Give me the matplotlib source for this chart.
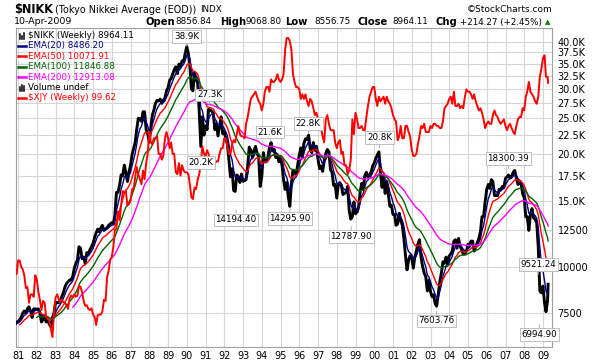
import numpy as np
import pandas as pd
import matplotlib
matplotlib.use('Agg')
import matplotlib.pyplot as plt
import matplotlib.dates as mdates
from matplotlib.lines import Line2D
from matplotlib.ticker import NullLocator

W, H = 600, 364

# month-end closes Jan 1980 .. Mar 2009, last value is the 10-Apr-2009 close
nikkei_close = [
    6600, 6650, 6600, 6700, 6850, 6900, 7000, 7050, 7100, 7000, 7100, 7116,        # 1980
    7200, 7300, 7500, 7600, 7500, 7700, 7800, 7600, 7300, 7700, 7700, 7681,        # 1981
    7700, 7500, 7100, 7200, 7400, 7100, 7200, 7000, 6900, 7300, 7500, 8016,        # 1982
    8000, 8000, 8100, 8300, 8500, 8800, 9000, 9100, 9200, 9200, 9400, 9893,        # 1983
    10200, 10400, 11300, 11200, 10500, 10600, 10200, 10900, 10800, 11100, 11300, 11542,  # 1984
    11990, 12300, 12600, 12400, 12700, 12900, 12500, 12600, 12700, 12900, 13000, 13113,  # 1985
    13000, 13700, 15800, 15800, 16500, 17600, 17500, 18700, 17900, 16900, 17900, 18701,  # 1986
    20000, 20700, 21500, 23300, 25000, 24900, 24500, 26000, 26000, 23300, 22700, 21564,  # 1987
    23600, 25500, 26300, 27400, 27900, 27800, 28100, 27400, 27900, 28300, 29600, 30159,  # 1988
    31600, 31900, 32800, 33700, 34300, 32900, 34900, 34400, 35600, 35500, 37300, 38916,  # 1989
    37200, 34600, 29900, 29600, 33100, 31900, 31000, 25900, 20984, 25200, 22500, 23849,  # 1990
    23300, 26400, 26300, 26100, 25800, 23300, 24100, 22400, 23900, 25200, 22700, 22984,  # 1991
    22000, 21300, 19300, 17400, 18300, 16000, 15900, 17600, 17400, 16800, 17700, 16925,  # 1992
    17000, 17100, 18600, 20900, 20500, 19600, 20400, 21000, 20100, 19700, 16400, 17417,  # 1993
    20200, 19100, 19100, 19700, 20900, 21500, 20400, 20600, 19600, 19900, 19100, 19723,  # 1994
    18600, 17100, 16100, 16800, 15400, 14500, 16700, 18100, 17900, 17650, 18700, 19868,  # 1995
    20800, 19700, 21400, 22000, 21900, 22500, 20700, 20200, 21500, 20500, 21000, 19361,  # 1996
    18300, 18600, 18000, 19200, 20100, 20600, 20300, 18200, 17900, 16500, 16600, 15259,  # 1997
    16600, 16800, 16500, 15600, 15700, 15800, 16400, 14100, 13400, 13600, 14900, 13842,  # 1998
    14000, 14400, 15800, 16700, 16100, 17500, 17900, 17400, 17600, 17900, 18600, 18934,  # 1999
    19500, 19900, 20300, 17900, 16300, 17400, 15700, 16900, 15700, 14500, 14600, 13786,  # 2000
    13800, 12900, 13000, 13900, 13300, 12900, 11900, 10700, 9800, 10400, 10700, 10543,   # 2001
    9900, 10600, 11000, 11500, 11800, 10600, 10000, 9600, 9400, 8600, 9200, 8579,        # 2002
    8300, 8400, 7970, 7830, 8400, 9100, 9600, 10300, 10200, 10600, 10100, 10677,         # 2003
    10800, 11000, 11700, 11800, 11200, 11900, 11300, 11100, 10800, 10800, 11000, 11489,  # 2004
    11400, 11700, 11700, 11000, 11300, 11600, 11900, 12400, 13600, 13600, 14900, 16111,  # 2005
    16600, 16200, 17100, 16900, 15500, 15500, 15500, 16100, 16100, 16400, 16300, 17225,  # 2006
    17400, 17600, 17300, 17400, 17900, 18100, 17250, 16600, 16800, 16700, 15700, 15307,  # 2007
    13600, 13600, 12500, 13800, 14300, 13500, 13400, 13100, 11300, 8600, 8500, 8859,     # 2008
    7994, 7568, 8110, 8964,                                                              # 2009
]

# $XJY (yen index) closes on the same dates
xjy_close = [
    41.7, 40.2, 40.0, 41.7, 44.2, 45.9, 44.8, 45.7, 47.2, 47.2, 46.7, 49.3,   # 1980
    49.3, 48.1, 47.6, 46.5, 44.2, 44.4, 41.7, 43.1, 43.1, 42.7, 46.5, 45.7,   # 1981
    43.5, 42.2, 40.5, 42.0, 41.7, 39.4, 39.1, 38.8, 37.6, 36.4, 40.0, 42.6,   # 1982
    43.1, 42.4, 41.8, 42.2, 41.8, 41.7, 41.3, 40.7, 42.4, 42.9, 42.6, 43.1,   # 1983
    42.7, 42.9, 44.6, 44.4, 43.5, 42.0, 41.2, 41.3, 40.7, 40.5, 40.8, 39.8,   # 1984
    39.4, 38.2, 39.7, 39.8, 39.8, 40.3, 42.2, 42.0, 46.1, 47.4, 49.5, 50.0,   # 1985
    52.1, 55.6, 55.9, 59.9, 57.8, 61.3, 64.9, 64.5, 64.9, 61.3, 61.7, 62.5,   # 1986
    65.4, 65.4, 68.5, 71.4, 69.4, 68.0, 66.7, 70.4, 68.0, 72.5, 75.2, 82.0,   # 1987
    78.7, 78.1, 80.0, 80.0, 80.6, 75.2, 75.2, 73.5, 74.6, 80.0, 82.0, 80.0,   # 1988
    76.9, 78.7, 75.2, 75.2, 69.9, 69.4, 72.5, 69.0, 71.9, 70.4, 69.9, 69.9,   # 1989
    69.4, 66.7, 63.3, 62.9, 65.8, 65.4, 68.0, 69.4, 72.5, 77.5, 75.2, 74.6,   # 1990
    76.3, 75.2, 71.4, 73.5, 72.5, 72.5, 73.0, 73.0, 75.2, 76.9, 76.9, 80.0,   # 1991
    80.0, 77.5, 75.2, 75.2, 78.1, 79.4, 78.7, 81.3, 84.0, 81.3, 80.6, 80.6,   # 1992
    80.0, 84.7, 87.0, 90.1, 93.5, 94.3, 95.2, 96.2, 94.3, 92.6, 91.7, 89.3,   # 1993
    91.7, 96.2, 98.0, 98.0, 96.2, 101.0, 100.0, 100.0, 101.0, 103.1, 101.0, 100.0,  # 1994
    101.0, 103.1, 113.6, 119.0, 119.0, 117.6, 113.6, 103.1, 100.0, 98.0, 98.0, 97.1,  # 1995
    93.5, 95.2, 93.5, 95.2, 92.6, 90.9, 93.5, 92.6, 90.1, 87.7, 88.5, 86.2,   # 1996
    82.6, 83.3, 80.6, 78.7, 86.2, 87.7, 84.7, 82.6, 82.6, 82.6, 78.7, 76.9,   # 1997
    78.7, 79.4, 75.2, 75.8, 71.9, 71.9, 69.4, 70.4, 73.5, 86.2, 81.3, 88.5,   # 1998
    86.2, 83.3, 83.3, 84.0, 82.6, 82.6, 87.0, 90.9, 94.3, 96.2, 98.0, 98.0,   # 1999
    93.5, 90.9, 94.3, 92.6, 93.5, 94.3, 91.7, 94.3, 92.6, 91.7, 90.1, 87.7,   # 2000
    86.2, 85.5, 79.4, 80.6, 84.0, 80.0, 80.0, 84.0, 84.0, 82.0, 80.6, 76.3,   # 2001
    74.6, 74.6, 75.2, 78.1, 80.6, 84.0, 83.3, 84.7, 82.0, 82.0, 82.0, 84.0,   # 2002
    83.3, 84.7, 84.7, 84.0, 84.0, 83.3, 83.3, 85.5, 90.1, 90.9, 91.7, 93.5,   # 2003
    94.3, 91.7, 96.2, 90.9, 90.9, 91.7, 90.1, 90.9, 90.1, 94.3, 97.1, 96.2,   # 2004
    96.2, 95.2, 93.5, 95.2, 92.6, 90.9, 89.3, 90.1, 88.5, 86.2, 83.3, 84.7,   # 2005
    85.5, 84.7, 84.7, 87.7, 89.3, 87.7, 87.0, 85.5, 84.7, 85.5, 86.2, 84.0,   # 2006
    82.6, 84.0, 84.7, 83.3, 82.0, 81.3, 84.0, 86.2, 87.0, 87.0, 90.1, 89.3,   # 2007
    94.3, 96.2, 100.0, 96.2, 95.2, 94.3, 92.6, 91.7, 94.3, 102.0, 105.3, 109.9,  # 2008
    111.1, 102.0, 102.0, 99.62,                                               # 2009
]

ema_periods = [20, 50, 100, 200]
ema_colors = ['#000080', '#ff0000', '#006400', '#ff00ff']
ema_last = ['8486.20', '10071.91', '11846.88', '12913.08']

ytick_vals = [7500, 10000, 12500, 15000, 17500, 20000, 22500, 25000,
              27500, 30000, 32500, 35000, 37500, 40000]
ytick_labels = ['7500', '10000', '12500', '15.0K', '17.5K', '20.0K', '22.5K', '25.0K',
                '27.5K', '30.0K', '32.5K', '35.0K', '37.5K', '40.0K']

years = list(range(1981, 2010))

# labelled highs / lows
mark_dates = ['1989-12-29', '1991-03-18', '1990-10-01', '1994-06-13', '1996-06-26',
              '1992-08-18', '1995-07-03', '1998-10-09', '2000-04-12', '2007-02-26',
              '2008-10-06', '2008-10-28', '2003-04-28']
mark_values = [38916, 27146, 20222, 21552, 22750, 14194, 14296, 12788, 20833,
               18300, 9521, 6995, 7604]
mark_text = ['38.9K', '27.3K', '20.2K', '21.6K', '22.8K', '14194.40', '14295.90',
             '12787.90', '20.8K', '18300.39', '9521.24', '6994.90', '7603.76']
mark_above = [True, True, False, True, True, False, False, False, True, True,
              True, False, False]

dates = list(pd.date_range('1980-01-31', '2009-03-31', freq='ME')) + [pd.Timestamp('2009-04-10')]
close = pd.Series(nikkei_close, index=dates, dtype=float)
xjy = pd.Series(xjy_close, index=dates, dtype=float)


def fx(x):
    return x / W


def fy(y):
    return 1 - y / H


fig = plt.figure(figsize=(W / 100, H / 100), dpi=100)
ax = fig.add_axes([fx(16), fy(347), (552 - 16) / W, (347 - 28) / H])

# weekly EMA periods converted to a monthly step
for n, c in zip(ema_periods, ema_colors):
    a = 1 - (1 - 2.0 / (n + 1)) ** (52 / 12.0)
    e = close.ewm(alpha=a, adjust=False).mean()
    e.iloc[:int(round(n * 12 / 52.0))] = np.nan
    ax.plot(e.index, e.values, color=c, lw=1.0, zorder=4)

ax.plot(close.index, close.values, color='black', lw=2.1, zorder=3)

ax.set_yscale('log')
ax.set_ylim(6085, 43610)
ax.set_xlim(pd.Timestamp('1980-11-20'), pd.Timestamp('2009-06-25'))
ax.grid(True, color='#d6d6d6', lw=0.8)
ax.set_axisbelow(True)
for s in ax.spines.values():
    s.set_color('#a0a0a0')
    s.set_linewidth(0.8)

# $XJY overlay on its own hidden log scale
ax2 = ax.twinx()
ax2.set_yscale('log')
ax2.plot(xjy.index, xjy.values, color='#ff0000', lw=1.4)
ax2.set_ylim(35.0, 123.8)
ax2.set_yticks([])
ax2.yaxis.set_minor_locator(NullLocator())
for s in ax2.spines.values():
    s.set_visible(False)

# price scale on the right (after twinx, which moves it back to the left)
ax.set_yticks(ytick_vals)
ax.set_yticklabels(ytick_labels)
ax.yaxis.set_minor_locator(NullLocator())
ax.yaxis.tick_right()
ax.set_xticks([pd.Timestamp('%d-01-01' % y) for y in years])
ax.set_xticklabels(['%02d' % (y % 100) for y in years])
ax.tick_params(axis='both', length=0, labelsize=7, colors='black')
ax.tick_params(axis='y', pad=4, labelleft=False, labelright=True)
ax.tick_params(axis='x', pad=3)

for d, v, t, up in zip(mark_dates, mark_values, mark_text, mark_above):
    off = 10 if up else -10
    ax2.annotate(t, xy=(mdates.date2num(pd.Timestamp(d)), float(v)), xycoords=ax.transData,
                 xytext=(0, off), textcoords='offset pixels',
                 ha='center', va='center', fontsize=6.3, zorder=10,
                 bbox=dict(boxstyle='square,pad=0.2', fc='white', ec='#b4b4b4', lw=0.6),
                 arrowprops=dict(arrowstyle='-', color='#a0a0a0', lw=0.6,
                                 shrinkA=0, shrinkB=0))

# legend block
leg_y = [35.5, 45.9, 56.3, 66.7, 77.1, 87.5, 97.9]
leg_txt = ['$NIKK (Weekly) 8964.11'] + ['EMA(%d) %s' % (n, v) for n, v in zip(ema_periods, ema_last)] \
    + ['Volume undef', '$XJY (Weekly) 99.62']
leg_col = ['black'] + ema_colors + ['black', '#ff0000']
for i, (yy, t, c) in enumerate(zip(leg_y, leg_txt, leg_col)):
    if i in (0, 5):
        for k, hh in enumerate([5, 3, 6] if i == 0 else [4, 6, 5]):
            xx = 19.5 + k * 2.2
            fig.add_artist(Line2D([fx(xx), fx(xx)], [fy(yy + 3), fy(yy + 3 - hh)],
                                  color='black', lw=1.1))
    else:
        fig.add_artist(Line2D([fx(18), fx(26)], [fy(yy), fy(yy)], color=c, lw=1.8))
    fig.text(fx(28), fy(yy), t, color=c, fontsize=6.3, va='center', ha='left')

# header
fig.text(fx(14), fy(10), '$NIKK', fontsize=8.3, weight='bold', va='center')
fig.text(fx(55), fy(10), '(Tokyo Nikkei Average (EOD))', fontsize=6.9, va='center')
fig.text(fx(200), fy(10), 'INDX', fontsize=6.3, va='center')
fig.text(fx(552), fy(9), '\u00a9StockCharts.com', fontsize=6.5, va='center', ha='right')
fig.text(fx(14), fy(22), '10-Apr-2009', fontsize=6.8, va='center')

hdr = [(145, 'Open', True), (175, '8856.84', False), (220, 'High', True),
       (246, '9068.80', False), (285, 'Low', True), (314, '8556.75', False),
       (358, 'Close', True), (392, '8964.11', False), (436, 'Chg', True),
       (460, '+214.27 (+2.45%)', False)]
for x, t, b in hdr:
    fig.text(fx(x), fy(22), t, fontsize=7.2 if b else 6.3,
             weight='bold' if b else 'normal', va='center')
fig.text(fx(548), fy(22), '\u25b2', fontsize=5, color='#008000', va='center', ha='center')

fig.savefig('out.png', dpi=100)
